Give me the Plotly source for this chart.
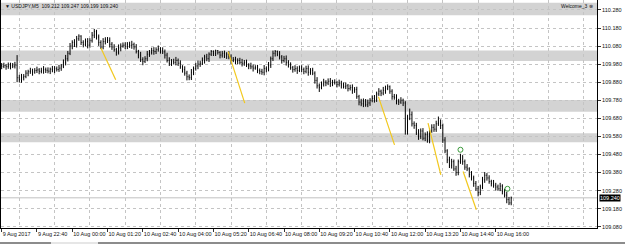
import plotly.graph_objects as go

# ---- data (prices as points above 109.000, i.e. 968 -> 109.968) ----
BASE = 109.0
opens_pts = [
    972, 968, 972, 966, 970, 974, 969, 975, 905, 895,
    905, 912, 930, 938, 942, 936, 945, 948, 940, 944,
    950, 946, 941, 952, 948, 955, 950, 958, 970, 990,
    1010, 1040, 1080, 1100, 1090, 1120, 1135, 1100, 1090, 1105,
    1085, 1110, 1140, 1160, 1130, 1100, 1075, 1105, 1115, 1110,
    1090, 1075, 1060, 1045, 1070, 1080, 1085, 1078, 1090, 1082,
    1088, 1075, 1050, 1030, 1005, 995, 1010, 1035, 1045, 1055,
    1050, 1060, 1065, 1055, 1048, 1030, 1000, 985, 995, 990,
    1000, 985, 965, 950, 930, 910, 905, 935, 955, 970,
    980, 985, 1000, 1020, 1010, 1035, 1050, 1040, 1055, 1045,
    1030, 1040, 1025, 1035, 1020, 1000, 1005, 995, 1000, 990,
    985, 990, 975, 970, 965, 958, 960, 945, 940, 935,
    955, 950, 975, 1010, 1040, 1050, 1035, 1020, 1000, 1010,
    990, 975, 960, 950, 955, 945, 958, 950, 940, 955,
    935, 945, 930, 890, 860, 850, 870, 880, 875, 885,
    872, 880, 878, 868, 875, 865, 855, 860, 845, 850,
    835, 840, 800, 770, 760, 775, 755, 765, 780, 790,
    785, 815, 830, 820, 835, 845, 855, 830, 800, 795,
    775, 770, 780, 765, 610, 680, 700, 650, 640, 600,
    580, 610, 570, 590, 560, 610, 630, 620, 650, 655,
    640, 560, 500, 450, 420, 440, 400, 380, 440, 475,
    440, 410, 400, 370, 350, 320, 290, 270, 300, 340,
    365, 350, 330, 320, 310, 300, 290, 305, 275, 255,
    230, 212,
]
highs_pts = [
    986, 988, 981, 989, 988, 986, 993, 1030, 921, 926,
    925, 946, 949, 960, 955, 958, 966, 958, 960, 969,
    961, 962, 961, 970, 969, 967, 976, 981, 1006, 1031,
    1053, 1097, 1112, 1118, 1136, 1145, 1140, 1112, 1122, 1124,
    1123, 1158, 1175, 1170, 1144, 1112, 1124, 1129, 1130, 1128,
    1102, 1090, 1070, 1089, 1095, 1100, 1101, 1102, 1104, 1109,
    1099, 1091, 1059, 1048, 1018, 1024, 1053, 1058, 1071, 1074,
    1073, 1083, 1074, 1073, 1061, 1043, 1018, 1008, 1010, 1020,
    1011, 1001, 974, 968, 943, 923, 953, 967, 987, 1000,
    999, 1017, 1032, 1037, 1045, 1058, 1056, 1060, 1058, 1052,
    1053, 1055, 1046, 1052, 1034, 1019, 1021, 1012, 1015, 1009,
    1003, 1005, 985, 988, 978, 974, 976, 956, 954, 975,
    967, 992, 1022, 1055, 1058, 1055, 1052, 1030, 1026, 1028,
    1002, 990, 970, 974, 968, 972, 974, 961, 971, 973,
    958, 960, 940, 908, 873, 884, 899, 891, 901, 903,
    893, 896, 887, 894, 888, 878, 878, 870, 866, 868,
    853, 855, 810, 788, 790, 787, 784, 792, 807, 809,
    828, 847, 839, 854, 861, 868, 862, 841, 815, 813,
    788, 797, 789, 775, 698, 734, 718, 663, 655, 620,
    624, 626, 602, 608, 625, 647, 648, 667, 690, 674,
    651, 576, 509, 468, 456, 452, 417, 452, 484, 475,
    452, 427, 409, 388, 363, 333, 306, 313, 356, 383,
    377, 365, 340, 339, 323, 313, 323, 315, 290, 273,
    245, 247,
]
lows_pts = [
    952, 958, 949, 954, 951, 958, 956, 880, 879, 877,
    890, 902, 913, 926, 916, 927, 931, 924, 929, 927,
    931, 929, 925, 935, 930, 939, 937, 943, 958, 973,
    995, 1030, 1062, 1075, 1072, 1109, 1086, 1073, 1079, 1067,
    1071, 1099, 1124, 1116, 1081, 1063, 1062, 1089, 1097, 1072,
    1059, 1049, 1027, 1033, 1051, 1071, 1063, 1063, 1070, 1065,
    1060, 1039, 1012, 992, 974, 986, 996, 1020, 1033, 1032,
    1036, 1049, 1038, 1036, 1011, 989, 970, 970, 978, 973,
    970, 954, 933, 916, 890, 891, 892, 919, 944, 952,
    965, 975, 983, 996, 992, 1025, 1025, 1025, 1033, 1012,
    1016, 1014, 1009, 1007, 981, 991, 980, 980, 978, 967,
    971, 964, 952, 952, 939, 949, 930, 924, 921, 918,
    935, 940, 959, 997, 1022, 1024, 1006, 983, 989, 972,
    961, 949, 933, 938, 926, 936, 936, 924, 929, 916,
    921, 919, 872, 845, 826, 841, 856, 858, 864, 854,
    858, 867, 851, 856, 845, 845, 842, 829, 834, 816,
    821, 788, 752, 747, 742, 744, 742, 749, 769, 767,
    771, 804, 803, 808, 816, 836, 816, 783, 783, 757,
    754, 760, 748, 590, 590, 670, 635, 622, 588, 561,
    566, 558, 554, 545, 542, 600, 605, 605, 638, 621,
    544, 487, 432, 405, 402, 389, 362, 365, 428, 423,
    395, 388, 353, 336, 301, 279, 248, 255, 288, 323,
    335, 318, 303, 296, 281, 279, 277, 259, 242, 210,
    200, 199,
]
closes_pts = [
    968, 972, 966, 970, 974, 969, 975, 905, 895, 905,
    912, 930, 938, 942, 936, 945, 948, 940, 944, 950,
    946, 941, 952, 948, 955, 950, 958, 970, 990, 1010,
    1040, 1080, 1100, 1090, 1120, 1135, 1100, 1090, 1105, 1085,
    1110, 1140, 1160, 1130, 1100, 1075, 1105, 1115, 1110, 1090,
    1075, 1060, 1045, 1070, 1080, 1085, 1078, 1090, 1082, 1088,
    1075, 1050, 1030, 1005, 995, 1010, 1035, 1045, 1055, 1050,
    1060, 1065, 1055, 1048, 1030, 1000, 985, 995, 990, 1000,
    985, 965, 950, 930, 910, 905, 935, 955, 970, 980,
    985, 1000, 1020, 1010, 1035, 1050, 1040, 1055, 1045, 1030,
    1040, 1025, 1035, 1020, 1000, 1005, 995, 1000, 990, 985,
    990, 975, 970, 965, 958, 960, 945, 940, 935, 955,
    950, 975, 1010, 1040, 1050, 1035, 1020, 1000, 1010, 990,
    975, 960, 950, 955, 945, 958, 950, 940, 955, 935,
    945, 930, 890, 860, 850, 870, 880, 875, 885, 872,
    880, 878, 868, 875, 865, 855, 860, 845, 850, 835,
    840, 800, 770, 760, 775, 755, 765, 780, 790, 785,
    815, 830, 820, 835, 845, 855, 830, 800, 795, 775,
    770, 780, 765, 610, 680, 700, 650, 640, 600, 580,
    610, 570, 590, 560, 610, 630, 620, 650, 655, 640,
    560, 500, 450, 420, 440, 400, 380, 440, 475, 440,
    410, 400, 370, 350, 320, 290, 270, 300, 340, 365,
    350, 330, 320, 310, 300, 290, 305, 275, 255, 230,
    212, 240,
]

tick_index = [0, 16, 32, 48, 64, 80, 96, 112, 128, 144, 160, 176, 192, 208, 224]
tick_text = ["9 Aug 2017", "9 Aug 22:40", "10 Aug 00:00", "10 Aug 01:20", "10 Aug 02:40",
             "10 Aug 04:00", "10 Aug 05:20", "10 Aug 06:40", "10 Aug 08:00", "10 Aug 09:20",
             "10 Aug 10:40", "10 Aug 12:00", "10 Aug 13:20", "10 Aug 14:40", "10 Aug 16:00"]
grid_index = [8, 24, 40, 56, 72, 88, 104, 120, 136, 152, 168, 184, 200, 216, 232, 248, 264]
price_ticks = [109.080, 109.180, 109.280, 109.380, 109.480, 109.580, 109.680,
               109.780, 109.880, 109.980, 110.080, 110.180, 110.280]

zone_low = [110.250, 109.998, 109.716, 109.547]
zone_high = [110.320, 110.056, 109.782, 109.597]

trend_x0 = [45.0, 102.7, 170.8, 193.3, 209.2]
trend_y0 = [110.070, 110.049, 109.800, 109.653, 109.386]
trend_x1 = [51.7, 110.2, 178.1, 199.1, 215.2]
trend_y1 = [109.893, 109.764, 109.533, 109.367, 109.174]

signal_x = [208, 229.3]
signal_y = [109.506, 109.290]

symbol = "USDJPY,M5"
window_name = "Welcome_3"

# ---- build ----
def to_price(v):
    return [round(BASE + p / 1000.0, 3) for p in v]

O, H, L, C = to_price(opens_pts), to_price(highs_pts), to_price(lows_pts), to_price(closes_pts)
idx = list(range(len(C)))

FONT = "Liberation Sans, Arial, sans-serif"

fig = go.Figure()
fig.add_trace(go.Ohlc(
    x=idx, open=O, high=H, low=L, close=C,
    increasing=dict(line=dict(color="black", width=1)),
    decreasing=dict(line=dict(color="black", width=1)),
    tickwidth=0.25, showlegend=False, hoverinfo="skip",
))
for a, b, c, d in zip(trend_x0, trend_y0, trend_x1, trend_y1):
    fig.add_trace(go.Scatter(x=[a, c], y=[b, d], mode="lines",
                             line=dict(color="#f2c81e", width=1.2),
                             showlegend=False, hoverinfo="skip"))
fig.add_trace(go.Scatter(x=signal_x, y=signal_y, mode="markers",
                         marker=dict(symbol="circle-open", size=5, color="#3a9a3a",
                                     line=dict(width=1, color="#3a9a3a")),
                         showlegend=False, hoverinfo="skip"))

shapes = []
for lo, hi in zip(zone_low, zone_high):
    shapes.append(dict(type="rect", xref="paper", x0=0, x1=1, yref="y", y0=lo, y1=hi,
                       fillcolor="#d3d3d3", line=dict(width=0), layer="below"))
# bid line
shapes.append(dict(type="line", xref="paper", x0=0, x1=1, yref="y", y0=C[-1], y1=C[-1],
                   line=dict(color="#c0c0c0", width=1), layer="below"))
# bottom tab strip
shapes.append(dict(type="rect", xref="paper", x0=-0.01, x1=1.06, yref="paper",
                   y0=-16 / 228, y1=-14 / 228, fillcolor="#8c8c8c", line=dict(width=0)))
shapes.append(dict(type="rect", xref="paper", x0=50 / 596, x1=97 / 596, yref="paper",
                   y0=-16 / 228, y1=-14 / 228, fillcolor="#e6e6e6", line=dict(width=0)))

annotations = [
    dict(xref="paper", yref="paper", x=0, y=1, xanchor="left", yanchor="top",
         xshift=2, yshift=-1, showarrow=False,
         text="▼ %s  %.3f %.3f %.3f %.3f" % (symbol, O[-1], H[-1], L[-1], C[-1]),
         font=dict(family=FONT, size=5, color="#111")),
    dict(xref="paper", yref="paper", x=1, y=1, xanchor="right", yanchor="top",
         xshift=-2, yshift=-1, showarrow=False, text=window_name + " ⊗",
         font=dict(family=FONT, size=5, color="#111")),
    dict(xref="paper", yref="y", x=1, y=C[-1], xanchor="left", yanchor="middle",
         xshift=2, showarrow=False, text="%.3f" % C[-1], bgcolor="black",
         borderpad=0, font=dict(family=FONT, size=5.5, color="white")),
]

fig.update_layout(
    width=625, height=244,
    margin=dict(l=1, r=28, t=0, b=16),
    paper_bgcolor="white", plot_bgcolor="white",
    showlegend=False,
    shapes=shapes, annotations=annotations,
    xaxis=dict(
        range=[-0.3, 269.9], tickmode="array", tickvals=tick_index, ticktext=tick_text,
        tickangle=0,
        ticks="outside", ticklen=3, tickcolor="#333", ticklabelposition="outside right",
        tickfont=dict(family=FONT, size=5.5, color="#111"),
        showgrid=False, zeroline=False, showline=True, linecolor="black", linewidth=1,
        rangeslider=dict(visible=False),
        minor=dict(tickmode="array", tickvals=grid_index, showgrid=True,
                   gridcolor="#c4c4c4", griddash="dot", gridwidth=1),
    ),
    yaxis=dict(
        side="right", range=[109.073, 110.335], tickmode="array", tickvals=price_ticks,
        ticktext=["%.3f" % v for v in price_ticks],
        ticks="outside", ticklen=3, tickcolor="#333",
        tickfont=dict(family=FONT, size=5.5, color="#111"),
        showgrid=True, gridcolor="#c4c4c4", griddash="dot", gridwidth=1,
        zeroline=False, showline=True, linecolor="black", linewidth=1, mirror=True,
    ),
)

fig.write_html("out.html")
